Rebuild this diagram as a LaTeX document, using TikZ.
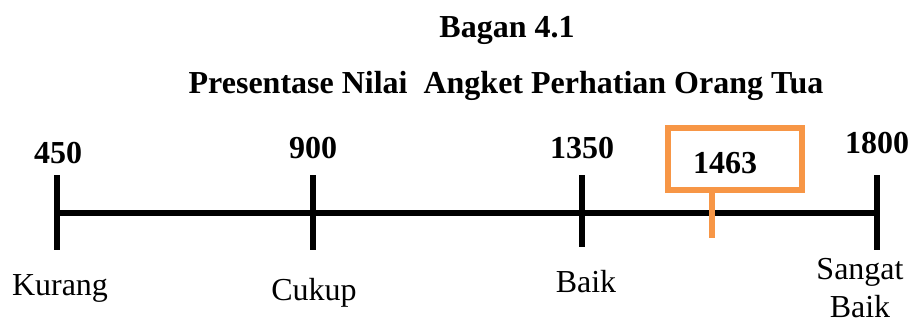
\documentclass[tikz,border=0pt]{standalone}
\usepackage{fontspec}
\setmainfont{Liberation Serif}
\definecolor{orangebox}{HTML}{F79646}
\begin{document}
\begin{tikzpicture}[x=0.75pt,y=-0.75pt,
  lbl/.style={font=\fontsize{24}{29}\selectfont, inner sep=0pt},
  num/.style={font=\fontsize{24}{29}\selectfont\bfseries, inner sep=0pt},
  axis/.style={line width=3.8pt},
  tick/.style={line width=3.8pt}]
\useasboundingbox (0,0) rectangle (914,325);
\node[num] (title) at (507,30) {Bagan 4.1};
\node[num] (subtitle) at (506,86) {Presentase Nilai\ \ Angket Perhatian Orang Tua};
% ticks
\coordinate (t1a) at (57,175); \coordinate (t1b) at (57,250);
\coordinate (t2a) at (313,175); \coordinate (t2b) at (313,250);
\coordinate (t3a) at (582,175); \coordinate (t3b) at (582,247);
\coordinate (t4a) at (877,175); \coordinate (t4b) at (877,250);
\coordinate (L) at (57,213); \coordinate (R) at (877,213);
\draw[axis] (L) -- (R);
\draw[tick] (t1a) -- (t1b);
\draw[tick] (t2a) -- (t2b);
\draw[tick] (t3a) -- (t3b);
\draw[tick] (t4a) -- (t4b);
% top numbers
\node[num] (n450) at (58,153) {450};
\node[num] (n900) at (313,148) {900};
\node[num] (n1350) at (582,148) {1350};
\node[num] (n1800) at (877,143) {1800};
% bottom labels
\node[lbl] (kurang) at (60,288) {Kurang};
\node[lbl] (cukup) at (314,293) {Cukup};
\node[lbl] (baik) at (586,282) {Baik};
\node[lbl, align=center, font=\fontsize{24}{28}\selectfont] (sangat) at (860,288) {Sangat\\Baik};
% marker
\draw[draw=orangebox, line width=3.8pt] (668,128) rectangle (802,190);
\coordinate (boxbot) at (712,190);
\coordinate (stemend) at (712,238);
\draw[orangebox, line width=5pt] (boxbot) -- (stemend);
\node[num] (n1463) at (725,163) {1463};
\end{tikzpicture}
\end{document}
